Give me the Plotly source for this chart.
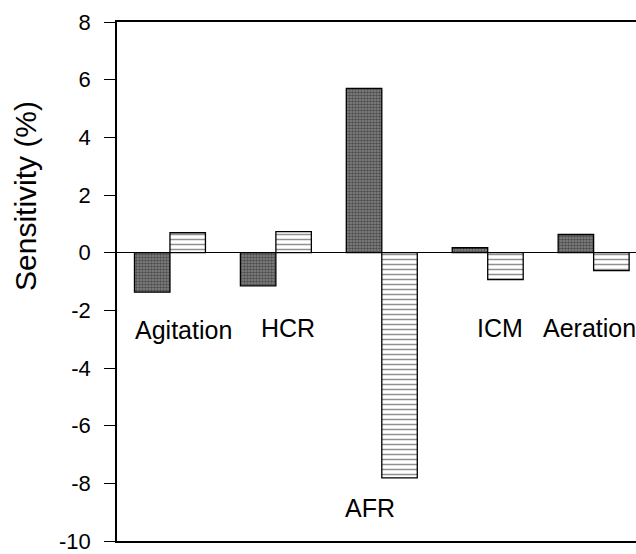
import plotly.graph_objects as go

categories = ["Agitation", "HCR", "AFR", "ICM", "Aeration"]
series_dark = [-1.37, -1.15, 5.70, 0.17, 0.63]
series_light = [0.69, 0.73, -7.81, -0.93, -0.62]
y_ticks = [8, 6, 4, 2, 0, -2, -4, -6, -8, -10]

x_idx = list(range(len(categories)))

fig = go.Figure()
fig.add_trace(go.Bar(
    x=x_idx, y=series_dark, name="dark",
    marker=dict(color="#666666", line=dict(color="black", width=1.3),
                pattern=dict(shape=".", fgcolor="#111111", bgcolor="#8a8a8a",
                             size=3, solidity=0.6)),
))
fig.add_trace(go.Bar(
    x=x_idx, y=series_light, name="light",
    marker=dict(color="white", line=dict(color="black", width=1.3),
                pattern=dict(shape="-", fgcolor="#222222", bgcolor="white",
                             size=5, solidity=0.3)),
))

# category labels placed inside the plot, as in the reference
label_pos = {
    "Agitation": (0.126, -2.69, "center"),
    "HCR": (1.11, -2.60, "center"),
    "AFR": (1.886, -8.84, "center"),
    "ICM": (3.12, -2.60, "center"),
    "Aeration": (3.50, -2.60, "left"),
}
for name in categories:
    xx, yy, anc = label_pos[name]
    fig.add_annotation(x=xx, y=yy, xref="x", yref="y", text=name, showarrow=False,
                       xanchor=anc, yanchor="middle",
                       font=dict(family="Arial, Liberation Sans", size=25, color="black"))

pw = 636 - 117
ph = 554 - 22 - 10
fig.add_annotation(x=(26 - 117) / pw, y=(554 - 10 - 197) / ph, xref="paper", yref="paper",
                   text="Sensitivity (%)", showarrow=False, textangle=-90,
                   xanchor="center", yanchor="middle",
                   font=dict(family="Arial, Liberation Sans", size=30, color="black"))

fig.update_layout(
    width=636, height=554,
    margin=dict(l=117, r=0, t=22, b=10),
    paper_bgcolor="white", plot_bgcolor="white",
    showlegend=False,
    barmode="group", bargap=0.33, bargroupgap=0,
    font=dict(family="Arial, Liberation Sans", color="black"),
)
fig.update_xaxes(range=[-0.5, 4.4], showticklabels=False, ticks="",
                 showline=True, linecolor="black", linewidth=1.5, mirror=True,
                 showgrid=False, zeroline=False)
fig.update_yaxes(range=[-10, 8], tickmode="array", tickvals=y_ticks,
                 ticktext=[str(v) for v in y_ticks],
                 ticks="outside", ticklen=11, tickcolor="black", tickwidth=1,
                 showline=True, linecolor="black", linewidth=1.5, mirror=False,
                 showgrid=False, zeroline=True, zerolinecolor="black", zerolinewidth=1,
                 tickfont=dict(family="Arial, Liberation Sans", size=22, color="black"),
                 ticklabelstandoff=9, ticklabeloverflow="allow")

fig.write_html("out.html", config={"displayModeBar": False},
               post_script="document.body.style.margin='0';document.body.style.overflow='hidden';")
